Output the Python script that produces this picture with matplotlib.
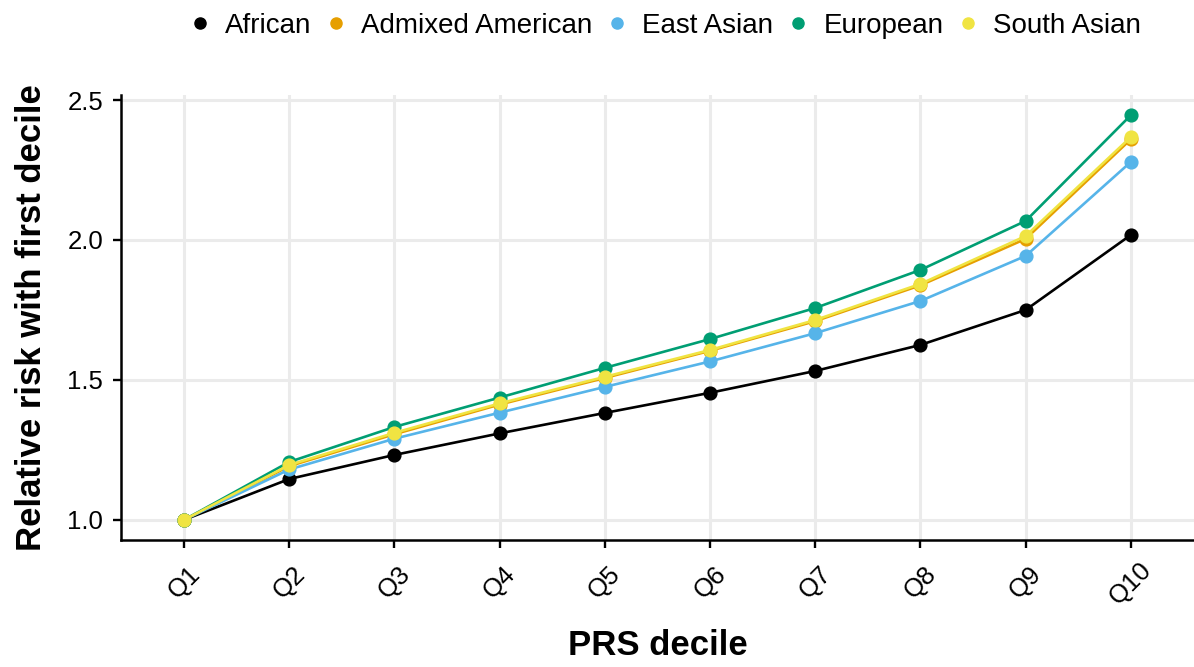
import matplotlib
matplotlib.use("Agg")
import matplotlib.pyplot as plt
from matplotlib.lines import Line2D

plt.rcParams['font.family'] = ['Liberation Sans', 'DejaVu Sans']

deciles = ["Q1", "Q2", "Q3", "Q4", "Q5", "Q6", "Q7", "Q8", "Q9", "Q10"]
groups = ["African", "Admixed American", "East Asian", "European", "South Asian"]
colors = ["#000000", "#E69F00", "#56B4E9", "#009E73", "#F0E442"]

african = [1.0, 1.146, 1.232, 1.309, 1.382, 1.454, 1.532, 1.625, 1.750, 2.018]
admixed_american = [1.0, 1.192, 1.306, 1.412, 1.507, 1.604, 1.710, 1.838, 2.004, 2.360]
east_asian = [1.0, 1.180, 1.290, 1.383, 1.475, 1.566, 1.667, 1.782, 1.943, 2.279]
european = [1.0, 1.207, 1.332, 1.437, 1.543, 1.646, 1.757, 1.893, 2.068, 2.446]
south_asian = [1.0, 1.196, 1.311, 1.416, 1.511, 1.607, 1.714, 1.843, 2.014, 2.368]

series = [african, admixed_american, east_asian, european, south_asian]

fig = plt.figure(figsize=(11.94, 6.67), dpi=100)
ax = fig.add_axes([0.1013, 0.1904, 0.8987, 0.6672])

x = list(range(1, len(deciles) + 1))
for vals, col in zip(series, colors):
    ax.plot(x, vals, color=col, lw=1.9, marker='o', ms=9.2, mec=col, mfc=col, zorder=3)

ax.set_xlim(0.4, 10.6)
ax.set_ylim(0.928, 2.518)
ax.set_xticks(x)
ax.set_xticklabels(deciles, rotation=45, ha='center', va='center', rotation_mode='anchor')
ax.set_yticks([1.0, 1.5, 2.0, 2.5])
ax.set_yticklabels(["1.0", "1.5", "2.0", "2.5"])
ax.tick_params(axis='both', labelsize=18.5, colors='black', length=5.8, width=1.7)
ax.tick_params(axis='y', pad=7)
ax.tick_params(axis='x', pad=25)

ax.grid(True, color='#EBEBEB', lw=2.2, zorder=0)
ax.set_axisbelow(True)
for s in ['top', 'right']:
    ax.spines[s].set_visible(False)
for s in ['left', 'bottom']:
    ax.spines[s].set_linewidth(1.8)
    ax.spines[s].set_color('black')

ax.set_xlabel("PRS decile", fontsize=25, fontweight='bold')
ax.xaxis.set_label_coords(0.5, -0.2)
ax.set_ylabel("Relative risk with first decile", fontsize=25, fontweight='bold', labelpad=14)

handles = [Line2D([], [], ls='none', marker='o', ms=8, color=c) for c in colors]
fig.legend(handles, groups, loc='center', bbox_to_anchor=(0.558, 0.961), ncol=5,
           frameon=False, fontsize=20, handletextpad=0.6, columnspacing=0.6,
           handlelength=0.6)

fig.savefig("out.png", dpi=100)
